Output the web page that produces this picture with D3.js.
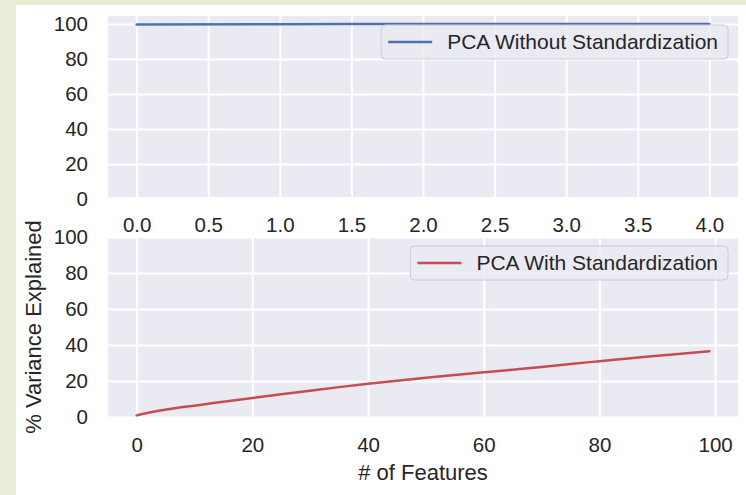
<!DOCTYPE html>
<html>
<head>
<meta charset="utf-8">
<script src="https://cdn.jsdelivr.net/npm/d3@7"></script>
<style>
    body { margin: 0; background: #e8eed8; }
    svg { display: block; }
    text { font-family: "Liberation Sans", Arial, sans-serif; fill: #262626; }
</style>
</head>
<body>
<svg id="chart" width="746" height="495"></svg>
<script>
// top panel: 5 components, no scaling
var noStdX = [0, 1, 2, 3, 4];
var noStdY = [99.7, 99.9, 100, 100, 100];

// bottom panel: cumulative %
var stdX = [0, 2, 4, 6, 8, 10, 15, 20, 25, 30, 35, 40, 45, 50, 55, 60, 65, 70, 75, 80, 85, 90, 95, 99];
var stdY = [0.9, 2.4, 3.6, 4.6, 5.5, 6.3, 8.5, 10.6, 12.6, 14.6, 16.6, 18.5, 20.2, 21.8, 23.3, 24.8, 26.3, 27.8, 29.5, 31.0, 32.5, 34.0, 35.4, 36.5];

var topXTicks = [0, 0.5, 1, 1.5, 2, 2.5, 3, 3.5, 4];
var botXTicks = [0, 20, 40, 60, 80, 100];
var yTicks = [0, 20, 40, 60, 80, 100];

var svg = d3.select("#chart");

// white page with the green strip on the left/top
svg.append("rect").attr("x", 16).attr("y", 5).attr("width", 730).attr("height", 490).attr("fill", "white");

function drawPanel(opts) {
    var x = d3.scaleLinear().domain(opts.xDomain).range([opts.left, opts.right]);
    var y = d3.scaleLinear().domain(opts.yDomain).range([opts.bottom, opts.top]);
    var g = svg.append("g");

    g.append("rect")
        .attr("x", opts.left).attr("y", opts.top)
        .attr("width", opts.right - opts.left).attr("height", opts.bottom - opts.top)
        .attr("fill", "#eaeaf2");

    // grid
    g.append("g")
        .attr("transform", "translate(0," + opts.bottom + ")")
        .call(d3.axisBottom(x).tickValues(opts.xTicks).tickSize(-(opts.bottom - opts.top)).tickFormat(""))
        .call(function (a) { a.select(".domain").remove(); a.selectAll("line").attr("stroke", "white").attr("stroke-width", 2); });
    g.append("g")
        .attr("transform", "translate(" + opts.left + ",0)")
        .call(d3.axisLeft(y).tickValues(yTicks).tickSize(-(opts.right - opts.left)).tickFormat(""))
        .call(function (a) { a.select(".domain").remove(); a.selectAll("line").attr("stroke", "white").attr("stroke-width", 2); });

    // tick labels
    g.append("g")
        .attr("transform", "translate(0," + opts.bottom + ")")
        .call(d3.axisBottom(x).tickValues(opts.xTicks).tickSize(0).tickPadding(20).tickFormat(opts.xFormat))
        .call(function (a) {
            a.select(".domain").remove();
            a.selectAll("text").attr("font-size", "20.5px").attr("fill", "#262626").attr("font-family", "Liberation Sans, Arial, sans-serif");
        });
    g.append("g")
        .attr("transform", "translate(" + opts.left + ",0)")
        .call(d3.axisLeft(y).tickValues(yTicks).tickSize(0).tickPadding(20))
        .call(function (a) {
            a.select(".domain").remove();
            a.selectAll("text").attr("font-size", "20.5px").attr("fill", "#262626").attr("font-family", "Liberation Sans, Arial, sans-serif");
        });

    var line = d3.line()
        .curve(d3.curveMonotoneX)
        .x(function (d) { return x(d[0]); })
        .y(function (d) { return y(d[1]); });
    g.append("path")
        .datum(d3.zip(opts.xs, opts.ys))
        .attr("d", line)
        .attr("fill", "none").attr("stroke", opts.color).attr("stroke-width", 2.5)
        .attr("stroke-linecap", "round");

    // legend, upper right
    var lg = g.append("g");
    var box = lg.append("rect");
    var label = lg.append("text")
        .attr("font-size", "21px")
        .text(opts.label);
    var tw = label.node().getComputedTextLength();
    var bw = 7 + 44 + 15 + tw + 10, bh = 34;
    var bx = opts.right - 10 - bw, by = opts.top + 9;
    box.attr("x", bx).attr("y", by).attr("width", bw).attr("height", bh)
        .attr("rx", 4)
        .attr("fill", "#eaeaf2").attr("fill-opacity", 0.8)
        .attr("stroke", "#cccccc").attr("stroke-width", 1);
    lg.append("line")
        .attr("x1", bx + 7).attr("x2", bx + 51)
        .attr("y1", by + bh / 2).attr("y2", by + bh / 2)
        .attr("stroke", opts.color).attr("stroke-width", 2.5);
    label.attr("x", bx + 66).attr("y", by + bh / 2).attr("dy", "0.35em");

    return { x: x, y: y };
}

drawPanel({
    left: 108, right: 738, top: 16, bottom: 197,
    xDomain: [-0.2, 4.2], yDomain: [1.1, 104.6],
    xTicks: topXTicks, xFormat: d3.format(".1f"),
    xs: noStdX, ys: noStdY, color: "#4c72b0",
    label: "PCA Without Standardization"
});

drawPanel({
    left: 108, right: 738, top: 237, bottom: 417,
    xDomain: [-4.95, 103.95], yDomain: [0, 100],
    xTicks: botXTicks, xFormat: d3.format("d"),
    xs: stdX, ys: stdY, color: "#c44e52",
    label: "PCA With Standardization"
});

// axis titles
svg.append("text")
    .attr("x", 423).attr("y", 480)
    .attr("text-anchor", "middle").attr("font-size", "22px")
    .text("# of Features");
svg.append("text")
    .attr("transform", "translate(41,327) rotate(-90)")
    .attr("text-anchor", "middle").attr("font-size", "22px")
    .text("% Variance Explained");
</script>
</body>
</html>
